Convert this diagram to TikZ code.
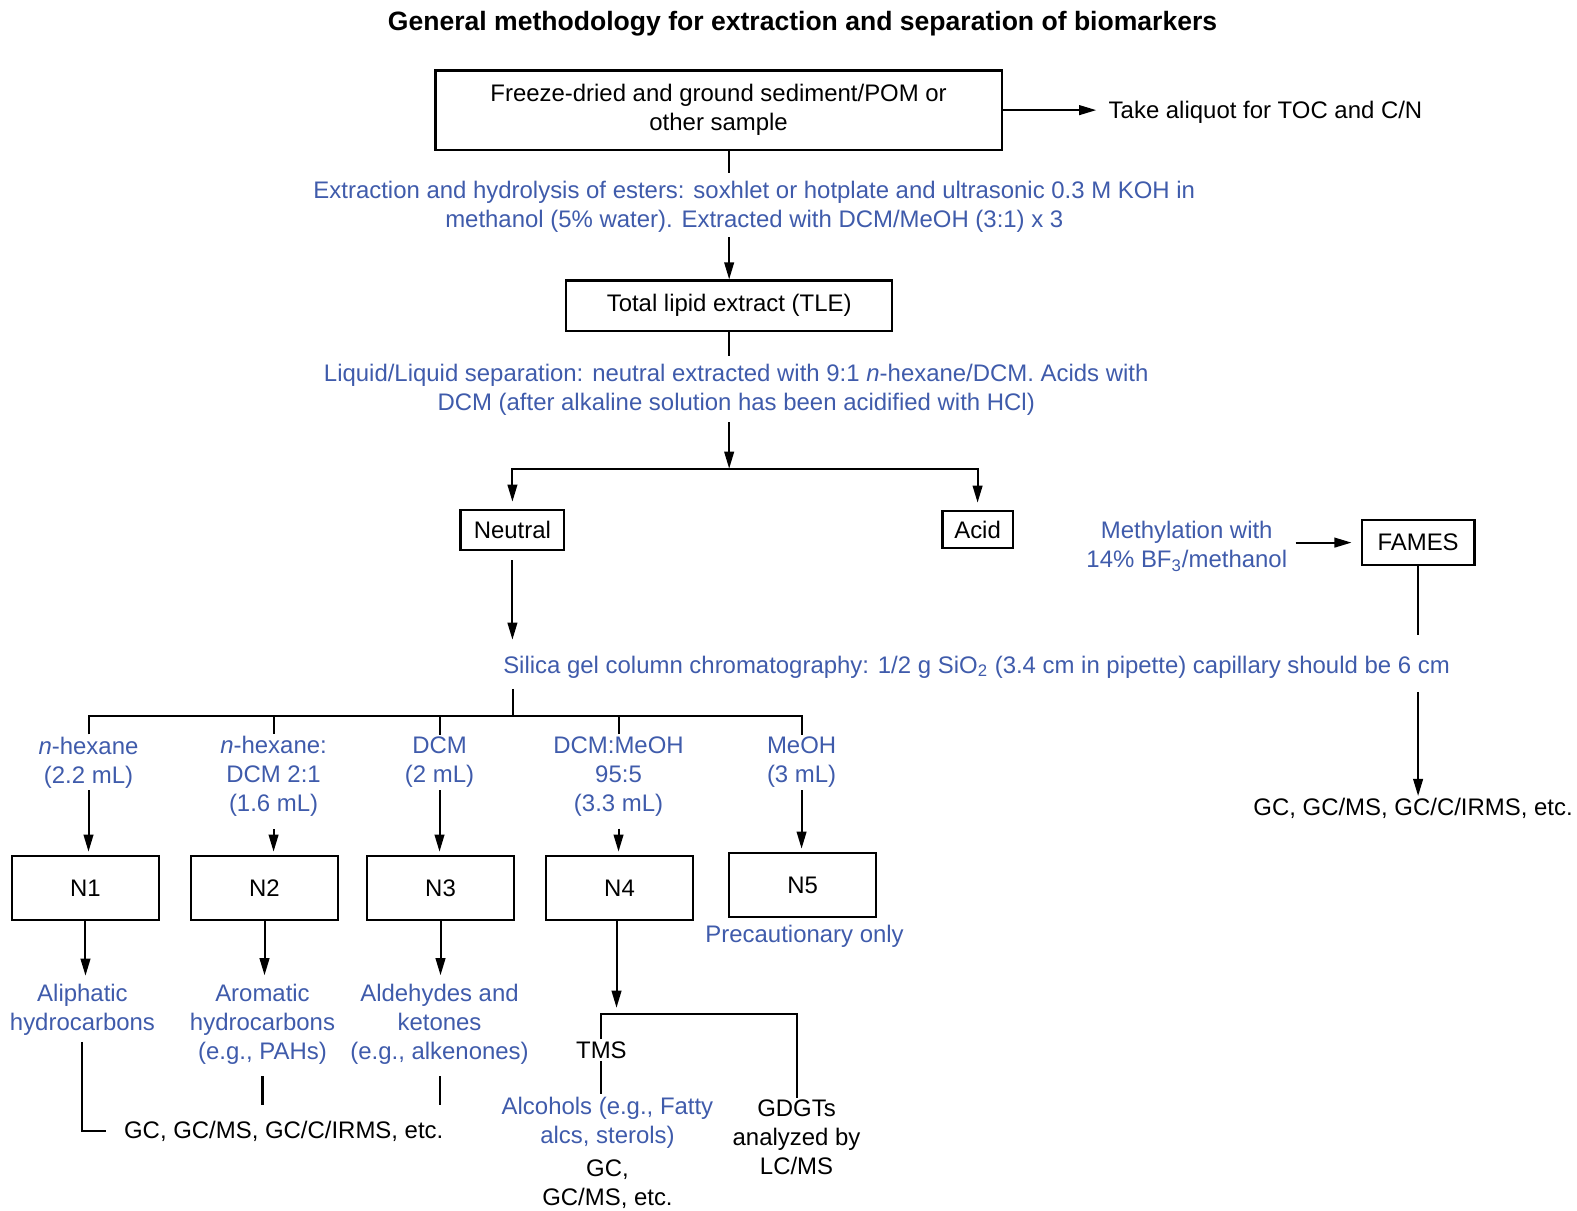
\documentclass[tikz,border=0pt]{standalone}
\usepackage{fontspec}
\setmainfont{Liberation Sans}
\usetikzlibrary{arrows.meta}
\definecolor{procblue}{RGB}{63,91,171}
\tikzset{
  box/.style={draw, line width=1.2pt, inner sep=0pt, align=center},
  proc/.style={text=procblue, align=center, inner sep=1pt},
  plain/.style={align=center, inner sep=1pt},
  arr/.style={line width=1pt, -{Triangle[length=8.5pt,width=4.8pt]}},
  ln/.style={line width=1pt}
}
\begin{document}
\begin{tikzpicture}[x=0.5pt, y=-0.5pt, font=\fontsize{11.9}{14.4}\selectfont]
\useasboundingbox (0,0) rectangle (1568,1204);
% title
\node[font=\bfseries\fontsize{13.2}{15}\selectfont] (title) at (798,24) {General methodology for extraction and separation of biomarkers};

% sample and total lipid extract
\node[box, minimum width=281.5pt, minimum height=39.5pt] (sample) at (714.5,109.5) {Freeze-dried and ground sediment/POM or\\other sample};
\node[plain, anchor=west, inner xsep=6pt] (toc) at (1090,112) {Take aliquot for TOC and C/N};
\draw[arr] (sample.east) -- (sample.east -| toc.west);
\node[proc] (extr) at (750,206) {Extraction and hydrolysis of esters: soxhlet or hotplate and ultrasonic 0.3 M KOH in\\methanol (5\% water). Extracted with DCM/MeOH (3:1) x 3};
\node[box, minimum width=162pt, minimum height=25pt] (tle) at (725,304) {Total lipid extract (TLE)};
\coordinate (c1) at (725,172);
\coordinate (c2) at (725,236);
\draw[ln] (sample.south -| c1) -- (c1);
\draw[arr] (c2) -- (tle.north);
\node[proc] (liq) at (732,388) {Liquid/Liquid separation: neutral extracted with 9:1 \textit{n}-hexane/DCM. Acids with\\DCM (after alkaline solution has been acidified with HCl)};
\coordinate (c3) at (725,354);
\coordinate (c4) at (725,420);
\coordinate (split) at (725,466);
\draw[ln] (tle.south) -- (c3);
\draw[arr] (c4) -- (split);

% neutral / acid
\node[box, minimum width=51.5pt, minimum height=20pt] (neutral) at (509.5,527) {Neutral};
\node[box, minimum width=35pt, minimum height=18.5pt] (acid) at (972,526.5) {Acid};
\draw[arr, shorten >=3.5pt] (split) -| (neutral.north);
\draw[arr, shorten >=3.5pt] (split) -| (acid.north);

% FAMES
\node[proc] (meth) at (1180,543) {Methylation with\\14\% BF\textsubscript{3}/methanol};
\node[box, minimum width=56pt, minimum height=22.5pt] (fames) at (1410,539.5) {FAMES};
\draw[arr, shorten <=3pt, shorten >=4.5pt] (fames.west -| meth.east) -- (fames.west);
\node[plain] (gcr) at (1405,804) {GC, GC/MS, GC/C/IRMS, etc.};
\coordinate (c7) at (1410,631);
\coordinate (c8) at (1410,688);
\draw[ln] (fames.south) -- (c7);
\draw[arr] (c8) -- (c8 |- gcr.north);

% silica gel column
\node[proc, anchor=west] (silica) at (498,663) {Silica gel column chromatography: 1/2 g SiO\textsubscript{2} (3.4 cm in pipette) capillary should be 6 cm};
\coordinate (c5) at (510,636);
\coordinate (c6) at (510,685);
\coordinate (fr) at (510,712);
\draw[arr, shorten <=4.5pt] (neutral.south) -- (neutral.south |- c5);
\draw[ln] (c6) -- (fr);

% fractions
\node[proc] (hex) at (88,758) {\textit{n}-hexane\\(2.2 mL)};
\node[proc] (hexdcm) at (272,772) {\textit{n}-hexane:\\DCM 2:1\\(1.6 mL)};
\node[proc] (dcm) at (437,758) {DCM\\(2 mL)};
\node[proc] (dcmmeoh) at (615,772) {DCM:MeOH\\95:5\\(3.3 mL)};
\node[proc] (meoh) at (797,758) {MeOH\\(3 mL)};
\draw[ln] (hex.north) |- (fr) -| (meoh.north);
\draw[ln] (hexdcm.north) -- (hexdcm.north |- fr);
\draw[ln] (dcm.north) -- (dcm.north |- fr);
\draw[ln] (dcmmeoh.north) -- (dcmmeoh.north |- fr);

\node[box, minimum width=73pt, minimum height=32pt] (n1) at (85,883) {N1};
\node[box, minimum width=73pt, minimum height=32pt] (n2) at (263,883) {N2};
\node[box, minimum width=73pt, minimum height=32pt] (n3) at (438,883) {N3};
\node[box, minimum width=73pt, minimum height=32pt] (n4) at (616,883) {N4};
\node[box, minimum width=73pt, minimum height=32pt] (n5) at (798,880) {N5};
\node[proc] (prec) at (800,931) {Precautionary only};
\draw[arr, shorten >=1.5pt] (hex.south) -- (hex.south |- n1.north);
\draw[arr, shorten >=1.5pt, shorten <=5pt] (hexdcm.south) -- (hexdcm.south |- n2.north);
\draw[arr, shorten >=1.5pt] (dcm.south) -- (dcm.south |- n3.north);
\draw[arr, shorten >=1.5pt, shorten <=5pt] (dcmmeoh.south) -- (dcmmeoh.south |- n4.north);
\draw[arr, shorten >=1.5pt] (meoh.south) -- (meoh.south |- n5.north);

% compound classes
\node[proc] (aliph) at (82,1004) {Aliphatic\\hydrocarbons};
\node[proc] (arom) at (261,1018) {Aromatic\\hydrocarbons\\(e.g., PAHs)};
\node[proc] (ald) at (437,1018) {Aldehydes and\\ketones\\(e.g., alkenones)};
\draw[arr, shorten >=3pt] (n1.south) -- (n1.south |- aliph.north);
\draw[arr, shorten >=3pt] (n2.south) -- (n2.south |- arom.north);
\draw[arr, shorten >=3pt] (n3.south) -- (n3.south |- ald.north);
\node[plain, anchor=west, inner xsep=9pt] (gcl) at (105,1125) {GC, GC/MS, GC/C/IRMS, etc.};
\coordinate (gcrow) at (0,1099);
\draw[ln, shorten <=2pt] (aliph.south) |- (gcl.west);
\draw[ln, shorten <=5pt] (arom.south) -- (arom.south |- gcrow);
\draw[ln, shorten <=5pt] (ald.south) -- (ald.south |- gcrow);

% N4 branches
\coordinate (fork) at (613,1008);
\node[plain] (tms) at (598,1044) {TMS};
\node[proc] (alc) at (604,1116) {Alcohols (e.g., Fatty\\alcs, sterols)};
\node[plain] (gcm) at (604,1177) {GC,\\GC/MS, etc.};
\node[plain] (gdgt) at (792,1131) {GDGTs\\analyzed by\\LC/MS};
\draw[arr, shorten >=3pt] (n4.south -| fork) -- (fork);
\draw[ln] (tms.north) |- (fork) -| (gdgt.north);
\draw[ln] (tms.south) -- (tms.south |- alc.north);
\end{tikzpicture}
\end{document}
